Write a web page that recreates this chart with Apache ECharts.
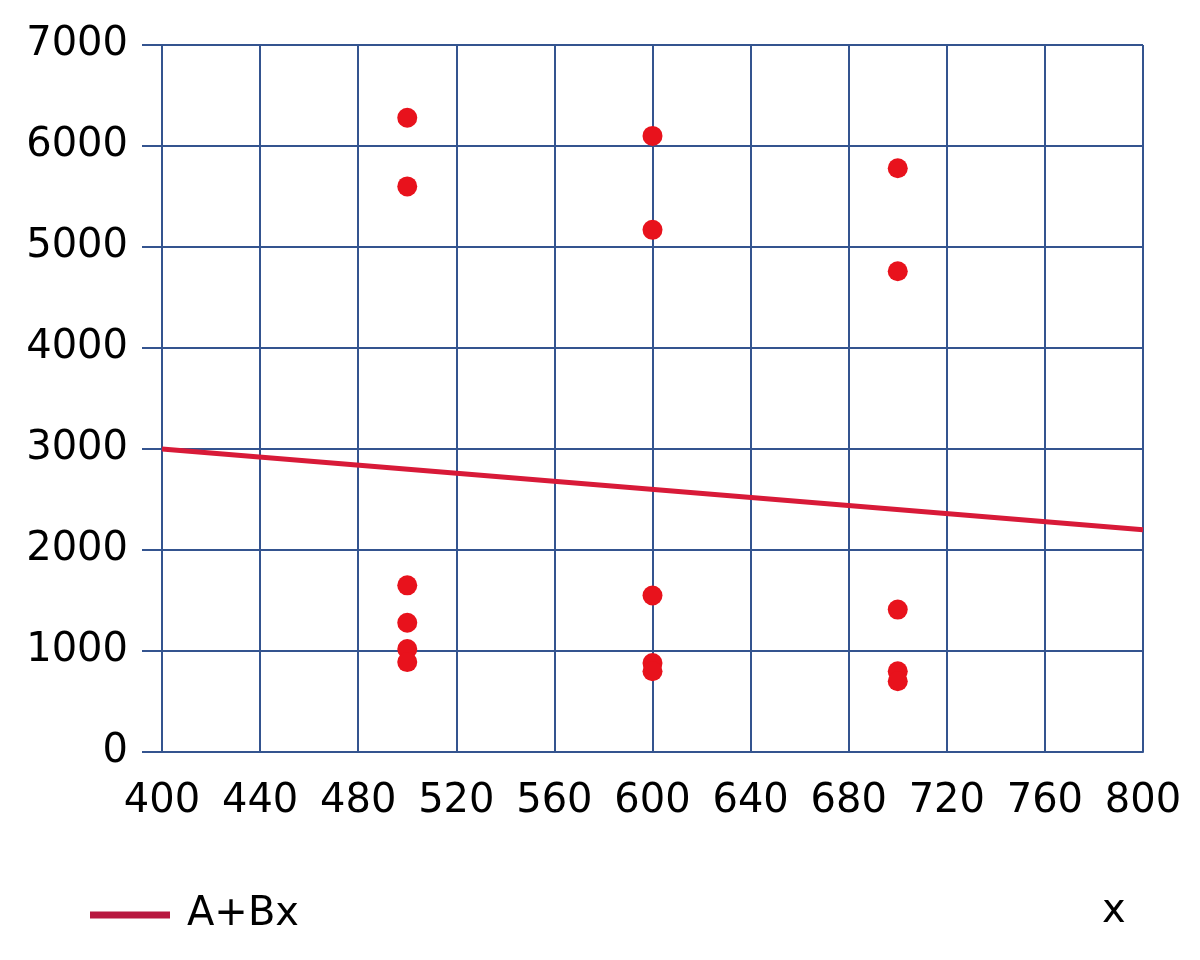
<!DOCTYPE html>
<html>
<head>
<meta charset="utf-8">
<script src="https://cdn.jsdelivr.net/npm/echarts@6/dist/echarts.min.js"></script>
<style>html,body{margin:0;padding:0;background:#fff}#chart{width:1200px;height:960px}</style>
</head>
<body>
<div id="chart"></div>
<script>
const pointsX = [500, 500, 500, 500, 500, 500, 600, 600, 600, 600, 600, 700, 700, 700, 700, 700];
const pointsY = [6280, 5600, 1650, 1280, 1020, 890, 6100, 5170, 1550, 880, 800, 5780, 4760, 1410, 800, 700];
const lineX = [400, 800];
const lineY = [3000, 2200];
const xTicks = {min: 400, max: 800, interval: 40};
const yTicks = {min: 0, max: 7000, interval: 1000};
const lineName = 'A+Bx';
const axisTitle = 'x';

const gridColor = '#34548f';
const font = 'DejaVu Sans';

const chart = echarts.init(document.getElementById('chart'), null, {renderer: 'canvas'});
chart.setOption({
  animation: false,
  backgroundColor: '#fff',
  grid: {left: 162, right: 57, top: 45, bottom: 208, containLabel: false},
  xAxis: {
    type: 'value', min: xTicks.min, max: xTicks.max, interval: xTicks.interval,
    axisLine: {show: true, onZero: false, lineStyle: {color: gridColor, width: 2}},
    axisTick: {show: false},
    splitLine: {show: true, lineStyle: {color: gridColor, width: 2}},
    axisLabel: {color: '#000', fontFamily: font, fontSize: 40, margin: 30, formatter: v => String(v)}
  },
  yAxis: {
    type: 'value', min: yTicks.min, max: yTicks.max, interval: yTicks.interval,
    axisLine: {show: true, lineStyle: {color: gridColor, width: 2}},
    axisTick: {show: true, length: 20, inside: false, lineStyle: {color: gridColor, width: 2}},
    splitLine: {show: true, lineStyle: {color: gridColor, width: 2}},
    axisLabel: {color: '#000', fontFamily: font, fontSize: 40, margin: 34, formatter: v => String(v)}
  },
  legend: {
    show: true, data: [lineName], left: 85, top: 890,
    itemWidth: 80, itemHeight: 7, itemGap: 10,
    icon: 'rect',
    textStyle: {color: '#000', fontFamily: font, fontSize: 40, padding: [4, 0, 0, 12]}
  },
  graphic: [{
    type: 'text', left: 1102, top: 892,
    style: {text: axisTitle, fill: '#000', font: '40px "DejaVu Sans"'}
  }],
  series: [
    {
      name: lineName, type: 'line', showSymbol: false, symbol: 'none',
      data: lineX.map((x, i) => [x, lineY[i]]),
      lineStyle: {color: '#d81a38', width: 5},
      itemStyle: {color: '#b81840'},
      z: 3
    },
    {
      name: 'points', type: 'scatter', symbolSize: 20,
      data: pointsX.map((x, i) => [x, pointsY[i]]),
      itemStyle: {color: '#e8121c', opacity: 1},
      z: 4
    }
  ]
});
</script>
</body>
</html>
